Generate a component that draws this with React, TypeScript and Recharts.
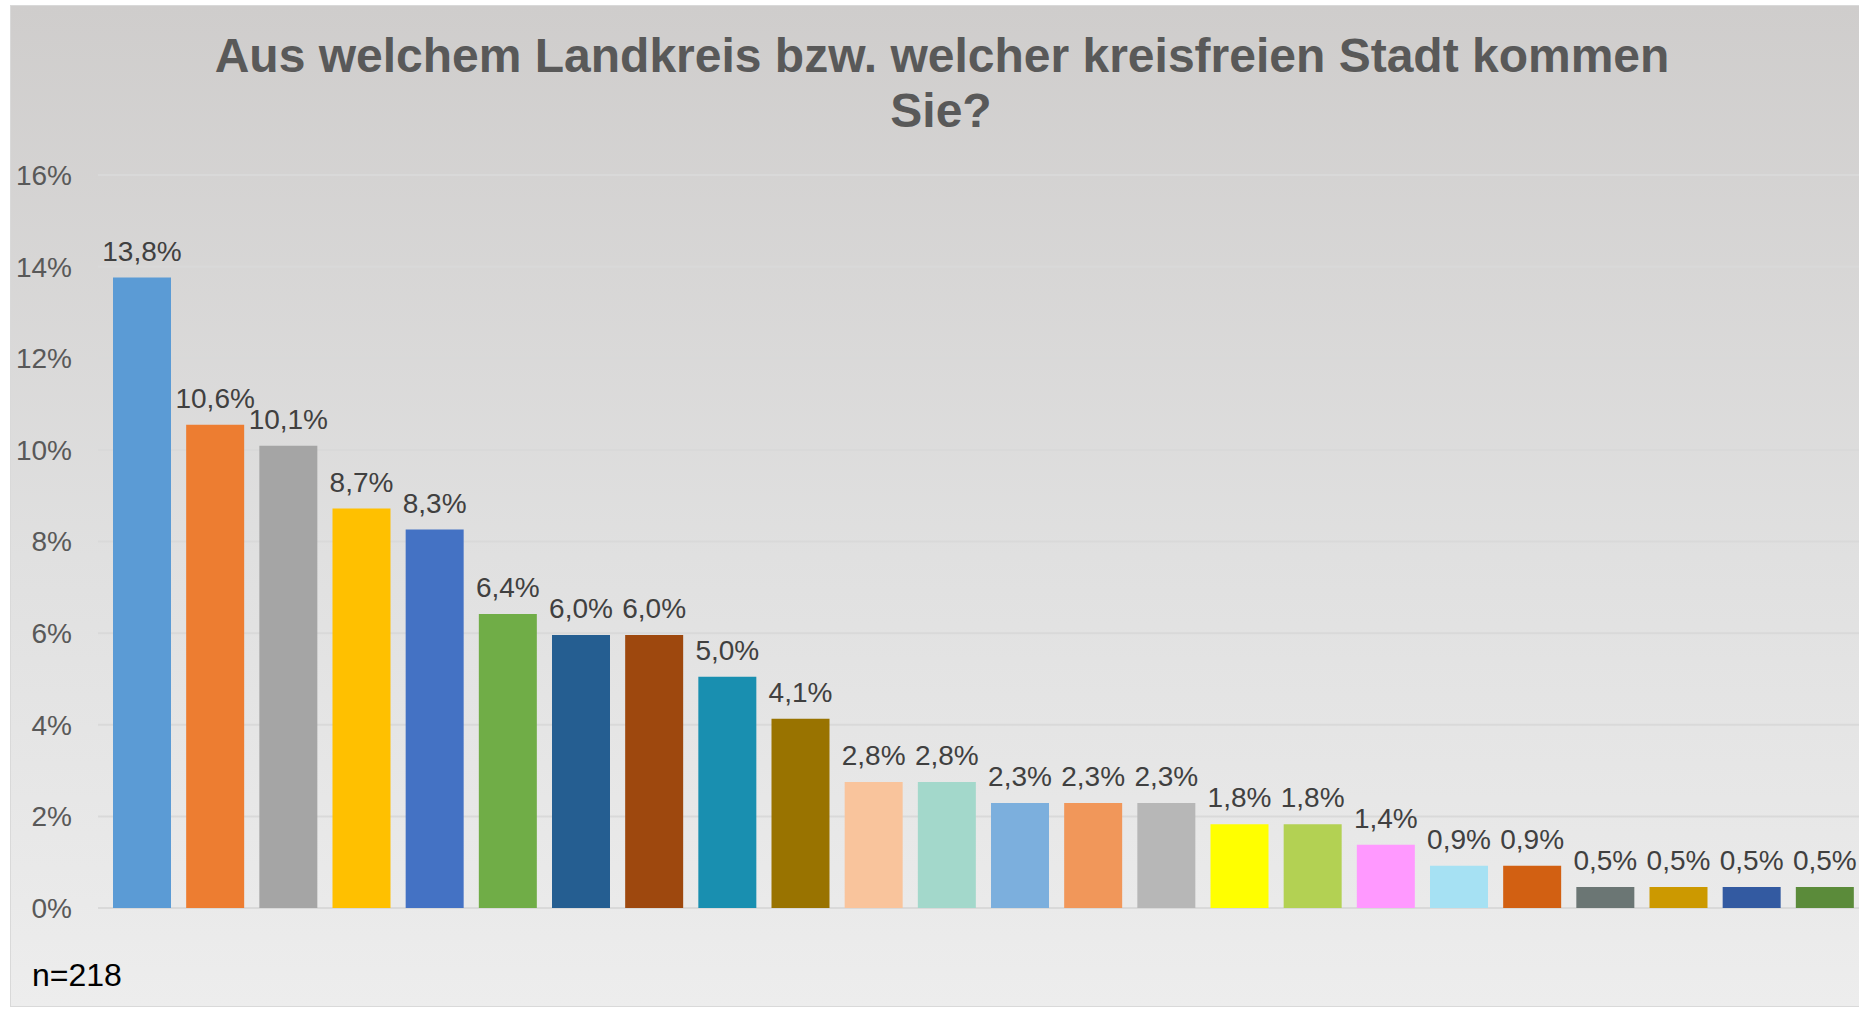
import React from 'react';
import { BarChart, Bar, XAxis, YAxis, CartesianGrid, Cell, LabelList } from 'recharts';

const titleLine1 = 'Aus welchem Landkreis bzw. welcher kreisfreien Stadt kommen';
const titleLine2 = 'Sie?';
const sampleNote = 'n=218';

const categories = [
  'K1', 'K2', 'K3', 'K4', 'K5', 'K6', 'K7', 'K8', 'K9', 'K10', 'K11', 'K12',
  'K13', 'K14', 'K15', 'K16', 'K17', 'K18', 'K19', 'K20', 'K21', 'K22', 'K23', 'K24',
];

const values = [
  13.76, 10.55, 10.09, 8.72, 8.26, 6.42, 5.96, 5.96, 5.05, 4.13, 2.75, 2.75,
  2.29, 2.29, 2.29, 1.83, 1.83, 1.38, 0.92, 0.92, 0.46, 0.46, 0.46, 0.46,
];

const colors = [
  '#5B9BD5', '#ED7D31', '#A5A5A5', '#FFC000', '#4472C4', '#70AD47', '#255E91', '#9E480E',
  '#198FB0', '#997300', '#F9C49C', '#A3D8CB', '#7CAFDD', '#F1975A', '#B7B7B7', '#FFFF00',
  '#B3D153', '#FF99FF', '#A6E1F3', '#D26012', '#6B7674', '#CC9900', '#335AA1', '#5B8B3A',
];

const yTicks = [0, 2, 4, 6, 8, 10, 12, 14, 16];

const data = categories.map((c, i) => ({ name: c, value: values[i] }));

const FONT = '"Liberation Sans", Arial, sans-serif';

export default function App() {
  return (
    <div style={{ position: 'absolute', left: 0, top: 0, width: 1859, height: 1009, overflow: 'hidden', background: '#ffffff' }}>
      <div
        style={{
          position: 'absolute',
          left: 10,
          top: 5,
          width: 1880,
          height: 1002,
          boxSizing: 'border-box',
          border: '1px solid #D9D9D9',
          background: 'linear-gradient(to bottom, #CFCDCC 0%, #E0E0E0 55%, #EDEDED 100%)',
        }}
      />
      <div style={{ position: 'absolute', left: 0, top: 0 }}>
        <BarChart
          width={1861}
          height={1009}
          data={data}
          margin={{ top: 175, right: 0, bottom: 101, left: 0 }}
        >
          <CartesianGrid vertical={false} stroke="#D9D9D9" strokeWidth={2} />
          <XAxis dataKey="name" hide padding={{ left: 7, right: 0 }} />
          <YAxis
            width={98}
            domain={[0, 16]}
            ticks={yTicks}
            interval={0}
            axisLine={false}
            tickLine={false}
            tickSize={0}
            tickMargin={26}
            tickFormatter={(v: number) => `${v}%`}
            tick={{ fill: '#595959', fontSize: 28, fontFamily: FONT }}
          />
          <Bar dataKey="value" barSize={58} isAnimationActive={false}>
            {data.map((d, i) => (
              <Cell key={d.name} fill={colors[i]} />
            ))}
            <LabelList
              dataKey="value"
              position="top"
              offset={17}
              formatter={(v: any) => `${Number(v).toFixed(1).replace('.', ',')}%`}
              style={{ fill: '#404040', fontSize: 28, fontFamily: FONT }}
            />
          </Bar>
        </BarChart>
      </div>
      <svg
        width={1859}
        height={1009}
        style={{ position: 'absolute', left: 0, top: 0, pointerEvents: 'none' }}
      >
        <text x={942} y={72} textAnchor="middle" fontFamily={FONT} fontWeight="bold" fontSize={48} fill="#595959">
          {titleLine1}
        </text>
        <text x={941} y={127} textAnchor="middle" fontFamily={FONT} fontWeight="bold" fontSize={48} fill="#595959">
          {titleLine2}
        </text>
        <text x={32} y={986} fontFamily={FONT} fontSize={32} fill="#000000">
          {sampleNote}
        </text>
      </svg>
    </div>
  );
}
